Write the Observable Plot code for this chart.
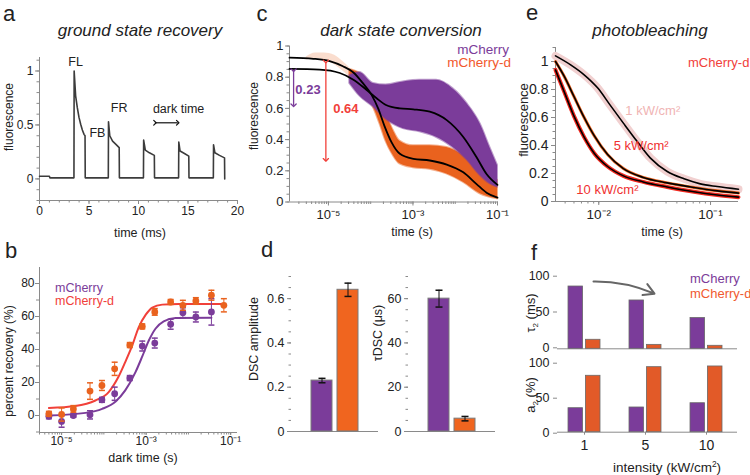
<!DOCTYPE html>
<html>
<head>
<meta charset="utf-8">
<title>mCherry photophysics</title>
<script src="https://cdn.jsdelivr.net/npm/d3@7"></script>
<script src="https://cdn.jsdelivr.net/npm/@observablehq/plot@0.6"></script>
<style>
  html, body { margin: 0; padding: 0; background: #fff; }
  #fig { position: relative; width: 750px; height: 475px; overflow: hidden; background: #fff;
         font-family: "Liberation Sans", Arial, Helvetica, sans-serif; color: #222; }
  #fig > svg { position: absolute; left: 0; top: 0; }
  .lbl { position: absolute; white-space: nowrap; line-height: 1; }
  .lbl sub, .lbl sup { font-size: 0.62em; line-height: 0; }
</style>
</head>
<body>
<div id="fig"></div>
<script>
// ---------- colours ----------
const PURPLE = "#7b3c9a", ORANGE = "#e9621e", RED = "#f1403a", AXIS = "#8a8a8a", INK = "#222";
const FONT = '"Liberation Sans", Arial, Helvetica, sans-serif';

// ---------- a: ground state recovery trace (ms) ----------
const traceTime = [0, 1.0, 1.05, 3.48, 3.5, 3.65, 3.82, 3.99, 4.16, 4.33, 4.5, 4.6, 4.62, 6.95, 6.97, 7.1, 7.38, 7.72, 8.05, 8.07, 10.5, 10.52, 10.69, 11.1, 11.6, 11.62, 14.05, 14.07, 14.2, 14.64, 15.08, 15.1, 17.56, 17.58, 17.72, 18.18, 18.69, 18.71];
const traceFluo = [0.025, 0.025, 0.01, 0.01, 1.0, 0.77, 0.66, 0.57, 0.506, 0.453, 0.413, 0.40, 0.01, 0.01, 0.53, 0.40, 0.35, 0.32, 0.29, 0.01, 0.01, 0.36, 0.267, 0.242, 0.218, 0.01, 0.01, 0.341, 0.258, 0.236, 0.211, 0.01, 0.01, 0.316, 0.242, 0.218, 0.195, 0.0];
const traceNoteText = ["FL", "FB", "FR", "dark time"];
const traceNoteTime = [3.65, 5.85, 8.05, 14.05];
const traceNoteFluo = [1.08, 0.43, 0.66, 0.65];
const darkSpan = [11.66, 13.96];
const darkSpanLevel = 0.52;

// ---------- b: percent recovery vs dark time (s) ----------
const darkTimeM = [5e-6, 1e-5, 1.9e-5, 4.7e-5, 9e-5, 1.8e-4, 4.1e-4, 8.1e-4, 1.6e-3, 3.8e-3, 7.4e-3, 1.5e-2, 3.5e-2];
const recoveryM = [-0.5, -3.6, 0, 0.4, 9.5, 13.2, 22.7, 42.1, 43.9, 55.3, 62.3, 59.7, 62.8];
const recoveryMErr = [1.5, 3.5, 1, 2.5, 1.5, 4, 1.5, 3, 3, 3, 3, 3, 8];
const darkTimeD = [5e-6, 1e-5, 1.9e-5, 4.7e-5, 9e-5, 1.8e-4, 4.1e-4, 8.1e-4, 1.6e-3, 3.8e-3, 7.4e-3, 1.5e-2, 3.5e-2, 6.9e-2];
const recoveryD = [1.0, 0.6, 4.0, 14.8, 18.2, 28.3, 42.7, 54, 62.8, 68.8, 66.8, 69.4, 72.9, 66.8];
const recoveryDErr = [1.5, 4, 2, 5, 3, 4, 1.5, 1.5, 2, 1.5, 3, 2, 3, 4];
const fitTimeM = [5e-6, 3.7e-5, 9.1e-5, 1.9e-4, 3.2e-4, 5.6e-4, 8.1e-4, 1.15e-3, 1.66e-3, 2.6e-3, 5e-3, 3.5e-2];
const fitRecM = [0, 1.6, 4, 8.5, 15.2, 26.3, 35.8, 45.3, 52.6, 57.1, 59.1, 59.3];
const fitTimeD = [5e-6, 2.1e-5, 6.3e-5, 1.3e-4, 2.2e-4, 3.2e-4, 4.7e-4, 6.7e-4, 9.8e-4, 1.4e-3, 2.4e-3, 5.9e-3, 6.9e-2];
const fitRecD = [4.5, 5.7, 9.1, 14.2, 23.3, 32.4, 42.5, 53.6, 61.1, 65.4, 67.2, 67.6, 67.6];

// ---------- c: dark state conversion ----------
const cloudMTime = [3.2e-5, 5.5e-5, 1.15e-4, 2.3e-4, 5.9e-4, 1.45e-3, 3.6e-3, 8.9e-3, 1.9e-2, 3.9e-2, 6.6e-2, 0.1];
const cloudMHigh = [0.81, 0.83, 0.76, 0.75, 0.77, 0.78, 0.78, 0.725, 0.63, 0.50, 0.35, 0.234];
const cloudMLow  = [0.76, 0.68, 0.61, 0.53, 0.47, 0.45, 0.415, 0.35, 0.27, 0.17, 0.117, 0.095];
const cloudDTime = [3.2e-5, 6.6e-5, 1.15e-4, 1.66e-4, 2.3e-4, 3.4e-4, 4.9e-4, 1.02e-3, 2.5e-3, 6.3e-3, 1.55e-2, 3.9e-2, 0.1];
const cloudDHigh = [0.85, 0.81, 0.715, 0.65, 0.565, 0.46, 0.39, 0.36, 0.36, 0.35, 0.30, 0.21, 0.138];
const cloudDLow  = [0.80, 0.715, 0.61, 0.50, 0.39, 0.30, 0.245, 0.22, 0.21, 0.18, 0.127, 0.053, 0.02];
const earlyDTime = [3e-6, 5e-6, 8e-6, 1.4e-5, 2.2e-5, 3.2e-5];
const earlyDHigh = [0.93, 0.955, 0.955, 0.94, 0.90, 0.86];
const earlyDLow  = [0.91, 0.92, 0.91, 0.88, 0.84, 0.80];
const dscFitTimeD = [1.2e-6, 4.4e-6, 1.07e-5, 2.2e-5, 3.9e-5, 6.6e-5, 1.05e-4, 1.5e-4, 2.1e-4, 3.1e-4, 4.9e-4, 1.02e-3, 2.5e-3, 6.3e-3, 1.55e-2, 3.2e-2, 5.5e-2, 0.1];
const dscFitFluoD = [0.925, 0.918, 0.903, 0.87, 0.83, 0.76, 0.687, 0.60, 0.49, 0.384, 0.309, 0.277, 0.266, 0.24, 0.19, 0.115, 0.06, 0.028];
const dscFitTimeM = [1.2e-6, 6.2e-6, 1.86e-5, 3.9e-5, 7.9e-5, 1.38e-4, 2.3e-4, 4.9e-4, 1.02e-3, 2.5e-3, 6.3e-3, 1.55e-2, 3.2e-2, 5.5e-2, 0.1];
const dscFitFluoM = [0.853, 0.849, 0.827, 0.784, 0.72, 0.665, 0.622, 0.60, 0.594, 0.579, 0.525, 0.417, 0.287, 0.18, 0.11];
const dscDropM = {time: 1.5e-6, from: 0.845, to: 0.62, text: "0.23", textTime: 1.65e-6, textFluo: 0.72};
const dscDropD = {time: 8.7e-6, from: 0.9, to: 0.27, text: "0.64", textTime: 1.3e-5, textFluo: 0.60};

// ---------- d: DSC amplitude and time constant ----------
const variants = ["mCherry", "mCherry-d"];
const dscAmp = [0.23, 0.64];
const dscAmpErr = [0.01, 0.03];
const dscTau = [60, 5.8];
const dscTauErr = [3.8, 1];

// ---------- e: photobleaching of mCherry-d ----------
const bleach1Time = [4.1e-3, 5.6e-3, 7.4e-3, 9.8e-3, 1.26e-2, 1.66e-2, 2.2e-2, 2.9e-2, 4.1e-2, 5.8e-2, 8.1e-2, 0.115, 0.178];
const bleach1Fluo = [1.04, 0.976, 0.905, 0.81, 0.69, 0.56, 0.43, 0.31, 0.214, 0.162, 0.126, 0.107, 0.088];
const bleachTime = [4.1e-3, 4.9e-3, 6.0e-3, 7.4e-3, 9.1e-3, 1.2e-2, 1.66e-2, 2.5e-2, 4.1e-2, 7.1e-2, 0.115, 0.178];
const bleach5Fluo = [1.0, 0.895, 0.75, 0.60, 0.47, 0.335, 0.235, 0.172, 0.133, 0.10, 0.076, 0.06];
const bleach10Fluo = [0.94, 0.785, 0.61, 0.46, 0.345, 0.25, 0.183, 0.14, 0.104, 0.07, 0.047, 0.031];
const bleachNoteText = ["1 kW/cm²", "5 kW/cm²", "10 kW/cm²"];
const bleachNoteTime = [1.73e-2, 1.36e-2, 6.3e-3];
const bleachNoteFluo = [0.65, 0.40, 0.085];

// ---------- f: slow component vs intensity ----------
const intensity = ["1", "5", "10"];
const tau2M = [87, 67.5, 43];
const tau2D = [12.6, 5.5, 4.2];
const a2M = [34.3, 35.3, 41.4];
const a2D = [80.6, 92.9, 93.9];

// ---------- helpers ----------
const fig = document.getElementById("fig");
const SUP = {"-": "⁻", "0": "⁰", "1": "¹", "2": "²", "3": "³", "4": "⁴", "5": "⁵", "6": "⁶", "7": "⁷", "8": "⁸", "9": "⁹"};
const pow10 = d => "10" + String(Math.round(Math.log10(d))).replace(/./g, c => SUP[c]);
const none = () => "";
const capSymbol = {draw(ctx, size) { const w = Math.sqrt(size / Math.PI); ctx.moveTo(-w, 0); ctx.lineTo(w, 0); }};

function logMinor(lo, hi) {
  const out = [];
  for (let e = -7; e <= 0; e++) for (let m = 1; m < 10; m++) {
    const v = m * Math.pow(10, e);
    if (v >= lo * 0.999 && v <= hi * 1.001) out.push(v);
  }
  return out;
}
function canvas(l, r, t, b) {
  return {width: 750, height: 475, marginLeft: l, marginRight: 750 - r, marginTop: t, marginBottom: 475 - b,
    style: {background: "none", overflow: "visible", fontFamily: FONT, color: INK}};
}
function axX(ticks, fmt, o = {}) {
  return Plot.axisX({ticks, tickFormat: fmt, tickSize: o.size ?? 4, tickPadding: o.pad ?? 2,
    stroke: AXIS, fill: INK, fontSize: o.font ?? 12, label: null, anchor: "bottom"});
}
function axY(ticks, fmt, o = {}) {
  return Plot.axisY({ticks, tickFormat: fmt, tickSize: o.size ?? 4, tickPadding: o.pad ?? 2,
    stroke: AXIS, fill: INK, fontSize: o.font ?? 12, label: null, anchor: "left", dy: o.dy ?? 0});
}
function note(html, x, y, o = {}) {
  const el = document.createElement("div");
  el.className = "lbl";
  el.innerHTML = html;
  const tx = o.anchor === "start" ? "0%" : o.anchor === "end" ? "-100%" : "-50%";
  el.style.left = x + "px";
  el.style.top = y + "px";
  el.style.fontSize = (o.size || 12) + "px";
  el.style.color = o.color || INK;
  if (o.bold) el.style.fontWeight = "bold";
  if (o.italic) el.style.fontStyle = "italic";
  el.style.transform = `translate(${tx}, -50%)` + (o.rotate ? ` rotate(${o.rotate}deg)` : "");
  fig.appendChild(el);
}
const add = p => fig.appendChild(p);

// ---------- panel a ----------
add(Plot.plot({
  ...canvas(39, 237, 57, 200),
  x: {domain: [0, 20]},
  y: {domain: [-0.2, 1.125]},
  marks: [
    axX(d3.range(0, 21), none, {size: 2.5}),
    axX([0, 5, 10, 15, 20], d => d, {size: 4, pad: 2}),
    axY(d3.range(-2, 12).map(k => k / 10), none, {size: 2.5}),
    axY([0, 0.5, 1], d => d, {size: 4, pad: 2}),
    Plot.ruleX([0], {stroke: AXIS}),
    Plot.ruleY([-0.2], {stroke: AXIS}),
    Plot.line(traceTime, {x: traceTime, y: traceFluo, stroke: "#3c3c3c", strokeWidth: 1.6}),
    Plot.text(traceNoteText, {x: traceNoteTime, y: traceNoteFluo, text: traceNoteText, fontSize: 12.5, fill: INK}),
    Plot.link([0], {x1: [darkSpan[0]], x2: [darkSpan[1]], y1: [darkSpanLevel], y2: [darkSpanLevel],
      markerStart: "arrow", markerEnd: "arrow", stroke: "#111", strokeWidth: 1.2})
  ]
}));

// ---------- panel b ----------
add(Plot.plot({
  ...canvas(39, 237, 267, 432),
  x: {type: "log", domain: [3e-6, 0.145]},
  y: {domain: [-10.3, 89.7]},
  marks: [
    axX(logMinor(3e-6, 0.145), none, {size: 2.5}),
    axX([1e-5, 1e-3, 1e-1], pow10, {size: 3, pad: 1}),
    axY(d3.range(-10, 81, 10), none, {size: 3}),
    axY([0, 20, 40, 60, 80], d => d, {size: 4, pad: 1}),
    Plot.ruleX([3e-6], {stroke: AXIS}),
    Plot.ruleY([-10.3], {stroke: AXIS}),
    Plot.line(fitTimeM, {x: fitTimeM, y: fitRecM, stroke: PURPLE, strokeWidth: 2, curve: "monotone-x"}),
    Plot.line(fitTimeD, {x: fitTimeD, y: fitRecD, stroke: RED, strokeWidth: 2, curve: "monotone-x"}),
    Plot.ruleX(darkTimeM, {x: darkTimeM, y1: recoveryM.map((v, i) => v - recoveryMErr[i]), y2: recoveryM.map((v, i) => v + recoveryMErr[i]), stroke: PURPLE, strokeWidth: 1}),
    Plot.dot(darkTimeM, {x: darkTimeM, y: recoveryM.map((v, i) => v - recoveryMErr[i]), symbol: capSymbol, r: 3, stroke: PURPLE, fill: "none"}),
    Plot.dot(darkTimeM, {x: darkTimeM, y: recoveryM.map((v, i) => v + recoveryMErr[i]), symbol: capSymbol, r: 3, stroke: PURPLE, fill: "none"}),
    Plot.dot(darkTimeM, {x: darkTimeM, y: recoveryM, r: 3.4, fill: PURPLE}),
    Plot.ruleX(darkTimeD, {x: darkTimeD, y1: recoveryD.map((v, i) => v - recoveryDErr[i]), y2: recoveryD.map((v, i) => v + recoveryDErr[i]), stroke: ORANGE, strokeWidth: 1}),
    Plot.dot(darkTimeD, {x: darkTimeD, y: recoveryD.map((v, i) => v - recoveryDErr[i]), symbol: capSymbol, r: 3, stroke: ORANGE, fill: "none"}),
    Plot.dot(darkTimeD, {x: darkTimeD, y: recoveryD.map((v, i) => v + recoveryDErr[i]), symbol: capSymbol, r: 3, stroke: ORANGE, fill: "none"}),
    Plot.dot(darkTimeD, {x: darkTimeD, y: recoveryD, r: 3.4, fill: ORANGE})
  ]
}));

// ---------- panel c ----------
add(Plot.plot({
  ...canvas(289, 497, 45.5, 201.5),
  x: {type: "log", domain: [1.2e-6, 0.1]},
  y: {domain: [0, 1]},
  marks: [
    axX(logMinor(1.2e-6, 0.1), none, {size: 2.5}),
    axX([1e-5, 1e-3, 1e-1], pow10, {size: 4, pad: 4, font: 13}),
    axY(d3.range(0, 21).map(k => k / 20), none, {size: 2.5}),
    axY([0, 0.2, 0.4, 0.6, 0.8, 1], d => d, {size: 4, pad: 2, font: 13}),
    Plot.ruleX([1.2e-6], {stroke: AXIS}),
    Plot.ruleY([0], {stroke: AXIS}),
    Plot.areaY(earlyDTime, {x: earlyDTime, y1: earlyDLow, y2: earlyDHigh, fill: ORANGE, fillOpacity: 0.22, curve: "monotone-x"}),
    Plot.areaY(cloudDTime, {x: cloudDTime, y1: cloudDLow, y2: cloudDHigh, fill: ORANGE, stroke: ORANGE, strokeOpacity: 0.5, strokeWidth: 2, curve: "monotone-x"}),
    Plot.areaY(cloudMTime, {x: cloudMTime, y1: cloudMLow, y2: cloudMHigh, fill: PURPLE, stroke: PURPLE, strokeOpacity: 0.5, strokeWidth: 2, curve: "monotone-x"}),
    Plot.line(dscFitTimeD, {x: dscFitTimeD, y: dscFitFluoD, stroke: "#000", strokeWidth: 1.8, curve: "monotone-x"}),
    Plot.line(dscFitTimeM, {x: dscFitTimeM, y: dscFitFluoM, stroke: "#000", strokeWidth: 1.8, curve: "monotone-x"}),
    Plot.link([dscDropM], {x1: "time", x2: "time", y1: "from", y2: "to", stroke: PURPLE, strokeWidth: 1.3, markerStart: "arrow", markerEnd: "arrow"}),
    Plot.link([dscDropD], {x1: "time", x2: "time", y1: "from", y2: "to", stroke: RED, strokeWidth: 1.3, markerStart: "arrow", markerEnd: "arrow"}),
    Plot.text([dscDropM], {x: "textTime", y: "textFluo", text: "text", fill: PURPLE, fontWeight: "bold", fontSize: 13, textAnchor: "start"}),
    Plot.text([dscDropD], {x: "textTime", y: "textFluo", text: "text", fill: RED, fontWeight: "bold", fontSize: 13, textAnchor: "start"})
  ]
}));

// ---------- panel d ----------
function dscBars(l, r, values, errs, domain, ticks, minor) {
  const lo = values.map((v, i) => v - errs[i]), hi = values.map((v, i) => v + errs[i]);
  return Plot.plot({
    ...canvas(l, r, 276, 431),
    x: {type: "band", domain: variants, paddingInner: 0.2, paddingOuter: 0.75, align: 0.5, axis: null},
    y: {domain},
    color: {domain: variants, range: [PURPLE, "#f0651f"]},
    marks: [
      axY(minor, none, {size: 2.5}),
      axY(ticks, d => d, {size: 4, pad: 3, font: 12.5}),
      Plot.ruleX([variants[0]], {x: () => null, stroke: AXIS}),
      Plot.ruleY([0], {stroke: AXIS}),
      Plot.barY(variants, {x: variants, y: values, fill: variants, stroke: "#7a7a7a", strokeWidth: 1}),
      Plot.ruleX(variants, {x: variants, y1: lo, y2: hi, stroke: "#111", strokeWidth: 1}),
      Plot.dot(variants, {x: variants, y: lo, symbol: capSymbol, r: 3.5, stroke: "#111", fill: "none"}),
      Plot.dot(variants, {x: variants, y: hi, symbol: capSymbol, r: 3.5, stroke: "#111", fill: "none"})
    ]
  });
}
add(dscBars(291, 378, dscAmp, dscAmpErr, [0, 0.7], [0, 0.2, 0.4, 0.6], d3.range(0, 15).map(k => k / 20)));
add(dscBars(408, 495, dscTau, dscTauErr, [0, 70], [0, 20, 40, 60], d3.range(0, 71, 5)));

// ---------- panel e ----------
add(Plot.plot({
  ...canvas(555, 738, 47, 201),
  x: {type: "log", domain: [4.1e-3, 0.178]},
  y: {domain: [0, 1.1]},
  marks: [
    axX(logMinor(4.1e-3, 0.178), none, {size: 2.5}),
    axX([1e-2, 1e-1], pow10, {size: 4, pad: 4, font: 13.5}),
    axY(d3.range(0, 23).map(k => k / 20), none, {size: 2.5}),
    axY([0, 0.2, 0.4, 0.6, 0.8, 1], d => d, {size: 4, pad: 3, font: 14}),
    Plot.ruleX([4.1e-3], {stroke: AXIS}),
    Plot.ruleY([0], {stroke: AXIS}),
    Plot.line(bleach1Time, {x: bleach1Time, y: bleach1Fluo, stroke: "#f1d0d0", strokeWidth: 8, curve: "monotone-x"}),
    Plot.line(bleachTime, {x: bleachTime, y: bleach10Fluo, stroke: "#f2281e", strokeWidth: 4, curve: "monotone-x"}),
    Plot.line(bleachTime, {x: bleachTime, y: bleach5Fluo, stroke: ORANGE, strokeWidth: 3, curve: "monotone-x"}),
    Plot.line(bleach1Time, {x: bleach1Time, y: bleach1Fluo, stroke: "#000", strokeWidth: 1.6, curve: "monotone-x"}),
    Plot.line(bleachTime, {x: bleachTime, y: bleach5Fluo, stroke: "#000", strokeWidth: 1.6, curve: "monotone-x"}),
    Plot.line(bleachTime, {x: bleachTime, y: bleach10Fluo, stroke: "#000", strokeWidth: 1.6, curve: "monotone-x"}),
    Plot.text(bleachNoteText, {x: bleachNoteTime, y: bleachNoteFluo, text: bleachNoteText, fontSize: 13,
      fill: ["#f0b4b4", "#f03030", "#f03030"], textAnchor: "start"})
  ]
}));

// ---------- panel f ----------
function slowBars(t, b, valuesM, valuesD, xAxis) {
  return Plot.plot({
    ...canvas(557, 737, t, b),
    x: {type: "band", domain: intensity, paddingInner: 0.48, paddingOuter: 0.2, align: 0.43, axis: null},
    y: {domain: [0, 100]},
    marks: [
      axY([0, 50, 100], d => d, {size: 4, pad: 4, font: 12.5, dy: xAxis ? 1 : -1}),
      xAxis ? axX(intensity, d => d, {size: 3, pad: 5, font: 14}) : null,
      Plot.ruleX([0], {x: () => null, stroke: AXIS}),
      Plot.ruleY([0], {stroke: AXIS}),
      Plot.barY(intensity, {x: intensity, y: valuesM, fill: PURPLE, stroke: "#6a6a6a", strokeWidth: 0.8, insetRight: 17.4}),
      Plot.barY(intensity, {x: intensity, y: valuesD, fill: "#e25a28", stroke: "#6a6a6a", strokeWidth: 0.8, insetLeft: 17.4}),
      xAxis ? null : Plot.arrow([0], {x1: [intensity[0]], y1: [94], x2: [intensity[1]], y2: [77], dx: 9,
        bend: 12, stroke: "#666", strokeWidth: 2, headLength: 9})
    ]
  });
}
add(slowBars(276.7, 348.3, tau2M, tau2D, false));
add(slowBars(361.7, 431.7, a2M, a2D, true));

// ---------- titles, panel letters, axis titles, legends ----------
note("a", 9, 14, {size: 22});
note("b", 11, 251, {size: 22});
note("c", 262, 14, {size: 22});
note("d", 267, 250, {size: 22});
note("e", 532, 13, {size: 22});
note("f", 534, 253, {size: 22});

note("ground state recovery", 140, 30, {size: 17, italic: true});
note("dark state conversion", 401, 30, {size: 17, italic: true});
note("photobleaching", 650, 30, {size: 17, italic: true});

note("fluorescence", 9, 117, {size: 12, rotate: -90});
note("time (ms)", 140, 233, {size: 12.5});
note("percent recovery (%)", 9, 361, {size: 12, rotate: -90});
note("dark time (s)", 143, 458, {size: 12.5});
note("fluorescence", 254, 116, {size: 12, rotate: -90});
note("time (s)", 412, 232, {size: 12.5});
note("DSC amplitude", 254, 339, {size: 12.5, rotate: -90});
note("τDSC (μs)", 378, 333, {size: 12.5, rotate: -90});
note("fluorescence", 523, 120, {size: 13, rotate: -90});
note("time (s)", 662, 232, {size: 12.5});
note("τ<sub>2</sub> (ms)", 530, 313, {size: 13, rotate: -90});
note("a<sub>2</sub> (%)", 530, 395, {size: 13, rotate: -90});
note("intensity (kW/cm<sup>2</sup>)", 667, 468, {size: 13.5});

note("mCherry", 55, 288, {size: 12.5, color: PURPLE, anchor: "start"});
note("mCherry-d", 55, 300.5, {size: 12.5, color: RED, anchor: "start"});
note("mCherry", 509, 49.5, {size: 13.5, color: PURPLE, anchor: "end"});
note("mCherry-d", 511, 63, {size: 13.5, color: "#f2582c", anchor: "end"});
note("mCherry-d", 688, 62, {size: 13, color: RED, anchor: "start"});
note("mCherry", 690, 278, {size: 13, color: PURPLE, anchor: "start"});
note("mCherry-d", 690, 293, {size: 13, color: "#f05a30", anchor: "start"});
</script>
</body>
</html>
